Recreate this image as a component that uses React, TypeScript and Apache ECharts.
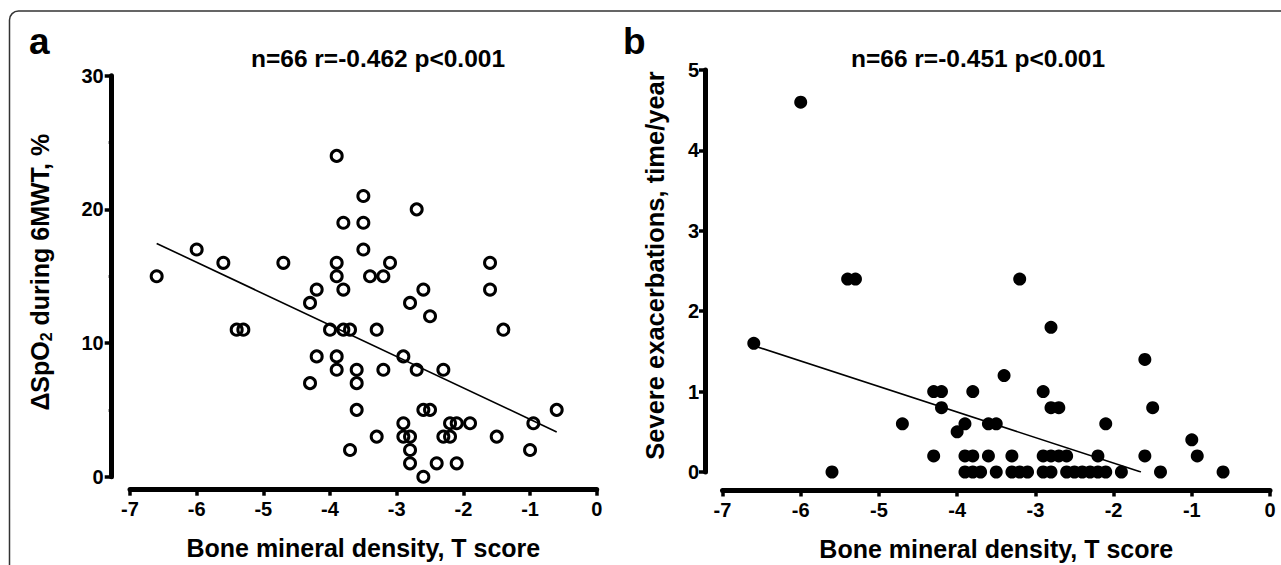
import React, { useEffect, useRef } from "react";
import * as echarts from "echarts";

// Panel a: ΔSpO2 during 6MWT vs BMD T score
const aX = [-6.6, -6.0, -5.6, -5.4, -5.3, -4.7, -4.3, -4.2, -4.3, -4.2, -3.9, -3.9, -3.9, -3.8, -3.8, -4.0, -3.8, -3.7, -3.9, -3.9, -3.5, -3.5, -3.5, -3.6, -3.6, -3.6, -3.7, -3.4, -3.2, -3.1, -3.3, -3.2, -3.3, -2.7, -2.6, -2.8, -2.5, -2.9, -2.7, -2.6, -2.5, -2.9, -2.9, -2.8, -2.8, -2.8, -2.6, -2.4, -2.3, -2.3, -2.2, -2.2, -2.1, -2.1, -1.9, -1.6, -1.6, -1.4, -1.5, -1.0, -0.95, -0.6];
const aY = [15, 17, 16, 11, 11, 16, 13, 14, 7, 9, 24, 16, 15, 14, 19, 11, 11, 11, 9, 8, 21, 19, 17, 8, 7, 5, 2, 15, 15, 16, 11, 8, 3, 20, 14, 13, 12, 9, 8, 5, 5, 4, 3, 3, 2, 1, 0, 1, 8, 3, 3, 4, 4, 1, 4, 16, 14, 11, 3, 2, 4, 5];
const trendAX = [-6.6, -0.6];
const trendAY = [17.45, 3.35];

// Panel b: severe exacerbations vs BMD T score
const bX = [-6.0, -5.4, -5.3, -5.6, -6.6, -4.7, -4.3, -4.2, -4.2, -4.3, -3.8, -4.0, -3.9, -3.9, -3.8, -3.9, -3.8, -3.7, -3.6, -3.5, -3.6, -3.5, -3.4, -3.3, -3.3, -3.2, -3.1, -3.2, -2.9, -2.8, -2.8, -2.7, -2.9, -2.8, -2.7, -2.6, -2.9, -2.8, -2.6, -2.5, -2.4, -2.3, -2.2, -2.1, -2.2, -2.1, -1.9, -1.6, -1.5, -1.6, -1.4, -1.0, -0.93, -0.6];
const bY = [4.6, 2.4, 2.4, 0, 1.6, 0.6, 1.0, 1.0, 0.8, 0.2, 1.0, 0.5, 0.6, 0.2, 0.2, 0, 0, 0, 0.6, 0.6, 0.2, 0, 1.2, 0.2, 0, 0, 0, 2.4, 1.0, 1.8, 0.8, 0.8, 0.2, 0.2, 0.2, 0.2, 0, 0, 0, 0, 0, 0, 0, 0, 0.2, 0.6, 0, 1.4, 0.8, 0.2, 0, 0.4, 0.2, 0];
const trendBX = [-6.6, -1.65];
const trendBY = [1.57, 0];

const xTickLabels = ["-7", "-6", "-5", "-4", "-3", "-2", "-1", "0"];
const titleA = "n=66 r=-0.462 p<0.001";
const titleB = "n=66 r=-0.451 p<0.001";
const xName = "Bone mineral density, T score";
const yNameB = "Severe exacerbations, time/year";

const FONT = "'Liberation Sans', Arial, Helvetica, sans-serif";

const zip = (xs: number[], ys: number[]) => xs.map((x, i) => [x, ys[i]]);

const labelStyle = () => ({
  color: "#000",
  fontFamily: FONT,
  fontWeight: 700,
  fontSize: 20,
});
const nameStyle = () => ({
  color: "#000",
  fontFamily: FONT,
  fontWeight: 700,
  fontSize: 25,
});
const axisLine = () => ({
  show: true,
  onZero: false,
  lineStyle: { color: "#000", width: 5, opacity: 1 },
});

export default function App() {
  const ref = useRef<HTMLDivElement>(null);
  useEffect(() => {
    if (!ref.current) return;
    const chart = echarts.init(ref.current, null, { renderer: "svg" });
    const makeX = (gridIndex: number, offset: number) => ({
      type: "value" as const,
      gridIndex,
      min: -7,
      max: 0,
      interval: 1,
      offset,
      axisLine: axisLine(),
      axisTick: { show: true, length: 6, lineStyle: { color: "#000", width: 3.5 } },
      axisLabel: {
        ...labelStyle(),
        margin: 9,
        formatter: (v: number) => xTickLabels[Math.round(v) + 7],
      },
      splitLine: { show: false },
      name: xName,
      nameLocation: "middle" as const,
      nameGap: 46,
      nameTextStyle: nameStyle(),
    });
    const option: any = {
      animation: false,
      backgroundColor: "#fff",
      grid: [
        { left: 130, top: 75.7, width: 466.7, height: 401, outerBoundsMode: "none" },
        { left: 722.5, top: 70, width: 547.5, height: 402, outerBoundsMode: "none" },
      ],
      xAxis: [makeX(0, 13), makeX(1, 18.5)],
      yAxis: [
        {
          type: "value",
          gridIndex: 0,
          min: 0,
          max: 30,
          interval: 10,
          offset: 18.3,
          axisLine: axisLine(),
          axisTick: { show: true, length: 7, lineStyle: { color: "#000", width: 3.5 } },
          minorTick: { show: true, splitNumber: 2, length: 3, lineStyle: { color: "#000", width: 3 } },
          axisLabel: { ...labelStyle(), margin: 8 },
          splitLine: { show: false },
          name: "{n|ΔSpO}{s|2}{n| during 6MWT, %}",
          nameLocation: "middle",
          nameGap: 57,
          nameTextStyle: {
            ...nameStyle(),
            padding: [0, 0, 0, 8],
            rich: {
              n: { ...nameStyle(), lineHeight: 30 },
              s: { ...nameStyle(), fontSize: 16, lineHeight: 16, verticalAlign: "bottom" },
            },
          },
        },
        {
          type: "value",
          gridIndex: 1,
          min: 0,
          max: 5,
          interval: 1,
          offset: 17.5,
          axisLine: axisLine(),
          axisTick: { show: true, length: 6, lineStyle: { color: "#000", width: 3.5 } },
          axisLabel: { ...labelStyle(), margin: 6 },
          splitLine: { show: false },
          name: yNameB,
          nameLocation: "middle",
          nameGap: 37,
          nameTextStyle: { ...nameStyle(), fontSize: 25.5, padding: [0, 0, 0, 11] },
        },
      ],
      series: [
        {
          type: "scatter",
          xAxisIndex: 0,
          yAxisIndex: 0,
          data: zip(aX, aY),
          symbol: "circle",
          symbolSize: 11,
          itemStyle: { color: "rgba(255,255,255,0)", borderColor: "#000", borderWidth: 3, opacity: 1 },
          z: 3,
        },
        {
          type: "line",
          xAxisIndex: 0,
          yAxisIndex: 0,
          data: zip(trendAX, trendAY),
          showSymbol: false,
          symbol: "none",
          lineStyle: { color: "#000", width: 1.6 },
          z: 2,
        },
        {
          type: "scatter",
          xAxisIndex: 1,
          yAxisIndex: 1,
          data: zip(bX, bY),
          symbol: "circle",
          symbolSize: 13,
          itemStyle: { color: "#000", opacity: 1 },
          z: 3,
        },
        {
          type: "line",
          xAxisIndex: 1,
          yAxisIndex: 1,
          data: zip(trendBX, trendBY),
          showSymbol: false,
          symbol: "none",
          lineStyle: { color: "#000", width: 1.6 },
          z: 2,
        },
      ],
      graphic: [
        {
          type: "rect",
          shape: { x: 9.5, y: 11, width: 1300, height: 600, r: 9 },
          style: { fill: "none", stroke: "#333", lineWidth: 1.5 },
          silent: true,
        },
        {
          type: "text",
          x: 29,
          y: 41,
          style: { text: "a", font: `bold 37px ${FONT}`, fill: "#000", textAlign: "left", textVerticalAlign: "middle" },
        },
        {
          type: "text",
          x: 623,
          y: 41,
          style: { text: "b", font: `bold 37px ${FONT}`, fill: "#000", textAlign: "left", textVerticalAlign: "middle" },
        },
        {
          type: "text",
          x: 378,
          y: 58,
          style: { text: titleA, font: `bold 24.5px ${FONT}`, fill: "#000", textAlign: "center", textVerticalAlign: "middle" },
        },
        {
          type: "text",
          x: 978,
          y: 58,
          style: { text: titleB, font: `bold 24.5px ${FONT}`, fill: "#000", textAlign: "center", textVerticalAlign: "middle" },
        },
      ],
    };
    chart.setOption(option);
    return () => chart.dispose();
  }, []);
  return (
    <div
      ref={ref}
      style={{ position: "fixed", left: 0, top: 0, width: 1281, height: 565, background: "#fff" }}
    />
  );
}
